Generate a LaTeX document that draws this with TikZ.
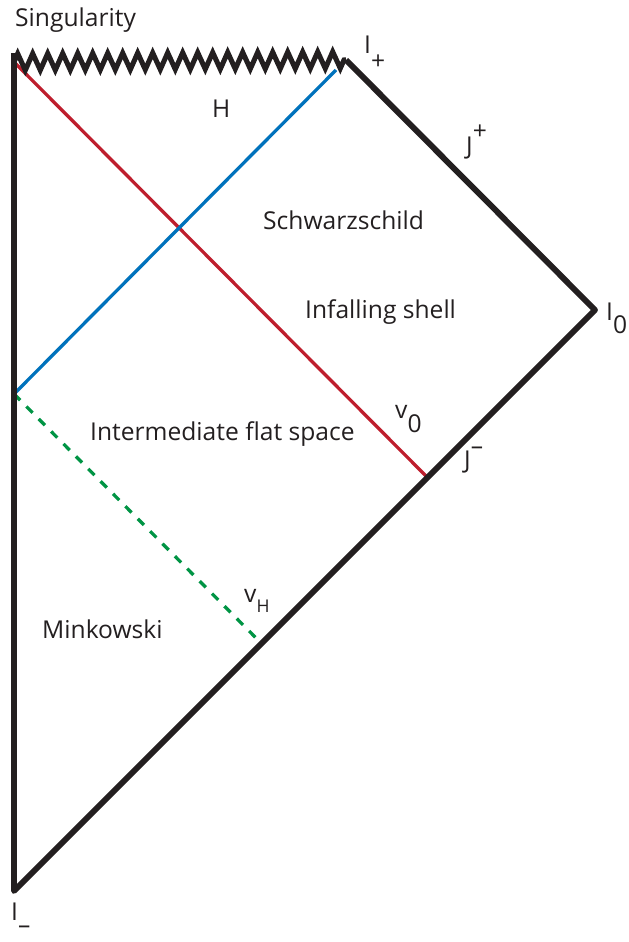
\documentclass[tikz,border=0pt]{standalone}
\usepackage{fontspec}
\setmainfont{Open Sans}
\usetikzlibrary{positioning,decorations.pathmorphing}
\definecolor{shellred}{HTML}{BE1E2D}
\definecolor{horizonblue}{HTML}{0072BC}
\definecolor{flatgreen}{HTML}{009444}
\definecolor{inkblack}{HTML}{231F20}
\newcommand{\dn}[2]{\raisebox{-#1em}{#2}}
\newcommand{\up}[2]{\raisebox{#1em}{#2}}
\tikzset{
  boundary/.style={draw=inkblack,line width=5pt,line join=round},
  singular/.style={draw=inkblack,line width=4.3pt,decorate,
    decoration={zigzag,segment length=0.45cm,amplitude=0.25cm}},
}

\begin{document}
\begin{tikzpicture}[
  x=0.03cm,y=-0.03cm,
  shell/.style={draw=shellred,line width=2.8pt},
  horizon/.style={draw=horizonblue,line width=2.8pt},
  flatedge/.style={draw=flatgreen,line width=2.8pt,dash pattern=on 7.5pt off 7.5pt},
  every node/.style={font=\fontsize{21}{24}\selectfont,text=inkblack,inner sep=0pt,anchor=base west}
]
\useasboundingbox (0,0) rectangle (629,942);

\coordinate (top) at (14,53);
\coordinate (tl) at (14,62);
\coordinate (iplus) at (346,60);
\coordinate (izero) at (595,310);
\coordinate (iminus) at (14,891);
\coordinate (hzn) at (14,394);
\coordinate (hzntop) at (336,70);
\coordinate (vzero) at (427.5,477.5);
\coordinate (vh) at (261.5,643.5);

\draw[shell] (tl) -- (vzero);
\draw[horizon] (hzn) -- (hzntop);
\draw[flatedge] (hzn) -- (vh);

\draw[singular] (tl) -- (iplus);
\draw[boundary] (top) -- (iminus) -- (izero) -- (iplus);

\node (sing) at (15,26) {Singularity};
\node (iplbl) at (364,53) {I\dn{0.68}{+}};
\node (hlbl) at (212,117) {H};
\node (scriplus) at (466,154) {J\up{0.58}{+}};
\node (schw) at (263,229) {Schwarzschild};
\node (shell) at (305,318) {Infalling shell};
\node (i0lbl) at (606,320) {I\dn{0.55}{0}};
\node (v0lbl) at (395,418) {v\dn{0.6}{0}};
\node (flat) at (90,440) {Intermediate flat space};
\node (scriminus) at (464,468) {J\up{0.55}{–}};
\node (vhlbl) at (244,602) {v\dn{0.42}{\fontsize{15}{17}\selectfont H}};
\node (mink) at (42,638) {Minkowski};
\node (imlbl) at (11,920) {I\dn{0.55}{–}};
\end{tikzpicture}
\end{document}
